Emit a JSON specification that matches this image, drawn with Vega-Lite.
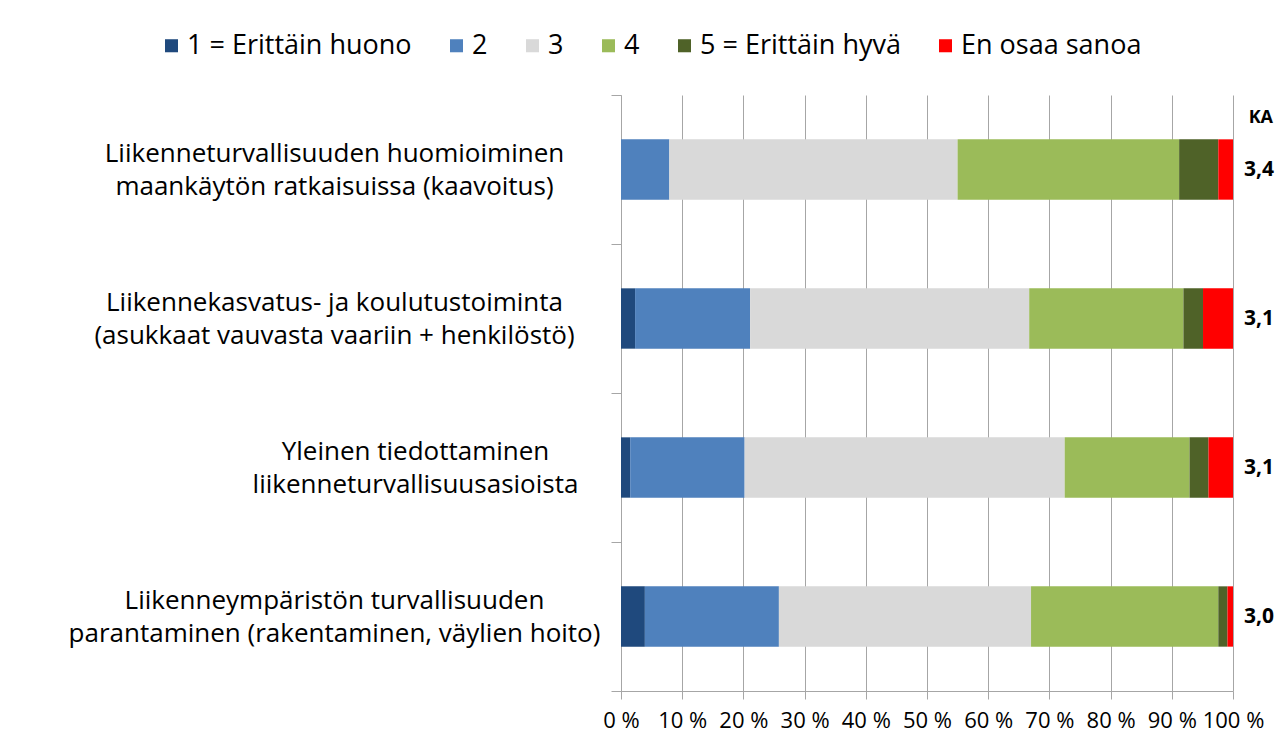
{
  "$schema": "https://vega.github.io/schema/vega-lite/v6.json",
  "autosize": {"type": "none"},
  "width": 612,
  "height": 596,
  "padding": {"left": 621, "top": 95, "right": 55, "bottom": 57},
  "background": "white",
  "config": {
    "view": {"stroke": null},
    "font": "Open Sans"
  },
  "title": {
    "text": "KA",
    "anchor": "end",
    "frame": "group",
    "orient": "top",
    "offset": 0,
    "dx": 40,
    "dy": 95,
    "fontSize": 18,
    "fontWeight": "bold",
    "font": "Open Sans",
    "color": "#000000"
  },
  "datasets": {
    "shares": [
      {"kohde": "Liikenneturvallisuuden huomioiminen|maankäytön ratkaisuissa (kaavoitus)", "vastaus": "1 = Erittäin huono", "osuus": 0},
      {"kohde": "Liikenneturvallisuuden huomioiminen|maankäytön ratkaisuissa (kaavoitus)", "vastaus": "2", "osuus": 7.9},
      {"kohde": "Liikenneturvallisuuden huomioiminen|maankäytön ratkaisuissa (kaavoitus)", "vastaus": "3", "osuus": 47.1},
      {"kohde": "Liikenneturvallisuuden huomioiminen|maankäytön ratkaisuissa (kaavoitus)", "vastaus": "4", "osuus": 36.2},
      {"kohde": "Liikenneturvallisuuden huomioiminen|maankäytön ratkaisuissa (kaavoitus)", "vastaus": "5 = Erittäin hyvä", "osuus": 6.4},
      {"kohde": "Liikenneturvallisuuden huomioiminen|maankäytön ratkaisuissa (kaavoitus)", "vastaus": "En osaa sanoa", "osuus": 2.4},
      {"kohde": "Liikennekasvatus- ja koulutustoiminta|(asukkaat vauvasta vaariin + henkilöstö)", "vastaus": "1 = Erittäin huono", "osuus": 2.3},
      {"kohde": "Liikennekasvatus- ja koulutustoiminta|(asukkaat vauvasta vaariin + henkilöstö)", "vastaus": "2", "osuus": 18.8},
      {"kohde": "Liikennekasvatus- ja koulutustoiminta|(asukkaat vauvasta vaariin + henkilöstö)", "vastaus": "3", "osuus": 45.6},
      {"kohde": "Liikennekasvatus- ja koulutustoiminta|(asukkaat vauvasta vaariin + henkilöstö)", "vastaus": "4", "osuus": 25.2},
      {"kohde": "Liikennekasvatus- ja koulutustoiminta|(asukkaat vauvasta vaariin + henkilöstö)", "vastaus": "5 = Erittäin hyvä", "osuus": 3.2},
      {"kohde": "Liikennekasvatus- ja koulutustoiminta|(asukkaat vauvasta vaariin + henkilöstö)", "vastaus": "En osaa sanoa", "osuus": 4.9},
      {"kohde": "Yleinen tiedottaminen|liikenneturvallisuusasioista", "vastaus": "1 = Erittäin huono", "osuus": 1.5},
      {"kohde": "Yleinen tiedottaminen|liikenneturvallisuusasioista", "vastaus": "2", "osuus": 18.7},
      {"kohde": "Yleinen tiedottaminen|liikenneturvallisuusasioista", "vastaus": "3", "osuus": 52.3},
      {"kohde": "Yleinen tiedottaminen|liikenneturvallisuusasioista", "vastaus": "4", "osuus": 20.4},
      {"kohde": "Yleinen tiedottaminen|liikenneturvallisuusasioista", "vastaus": "5 = Erittäin hyvä", "osuus": 3.1},
      {"kohde": "Yleinen tiedottaminen|liikenneturvallisuusasioista", "vastaus": "En osaa sanoa", "osuus": 4.0},
      {"kohde": "Liikenneympäristön turvallisuuden|parantaminen (rakentaminen, väylien hoito)", "vastaus": "1 = Erittäin huono", "osuus": 3.9},
      {"kohde": "Liikenneympäristön turvallisuuden|parantaminen (rakentaminen, väylien hoito)", "vastaus": "2", "osuus": 21.9},
      {"kohde": "Liikenneympäristön turvallisuuden|parantaminen (rakentaminen, väylien hoito)", "vastaus": "3", "osuus": 41.2},
      {"kohde": "Liikenneympäristön turvallisuuden|parantaminen (rakentaminen, väylien hoito)", "vastaus": "4", "osuus": 30.6},
      {"kohde": "Liikenneympäristön turvallisuuden|parantaminen (rakentaminen, väylien hoito)", "vastaus": "5 = Erittäin hyvä", "osuus": 1.5},
      {"kohde": "Liikenneympäristön turvallisuuden|parantaminen (rakentaminen, väylien hoito)", "vastaus": "En osaa sanoa", "osuus": 0.9}
    ],
    "ka": [
      {"kohde": "Liikenneturvallisuuden huomioiminen|maankäytön ratkaisuissa (kaavoitus)", "ka": "3,4"},
      {"kohde": "Liikennekasvatus- ja koulutustoiminta|(asukkaat vauvasta vaariin + henkilöstö)", "ka": "3,1"},
      {"kohde": "Yleinen tiedottaminen|liikenneturvallisuusasioista", "ka": "3,1"},
      {"kohde": "Liikenneympäristön turvallisuuden|parantaminen (rakentaminen, väylien hoito)", "ka": "3,0"}
    ]
  },
  "resolve": {"axis": {"y": "independent"}},
  "layer": [
    {
      "data": {"name": "shares"},
      "mark": {"type": "bar", "height": {"band": 0.405}},
      "encoding": {
        "y": {
          "field": "kohde",
          "type": "nominal",
          "sort": null,
          "scale": {"paddingInner": 0, "paddingOuter": 0},
          "axis": {
            "title": null,
            "orient": "left",
            "labelExpr": "indexof(datum.label, 'Yleinen') == 0 ? '' : split(datum.label, '|')",
            "labelFont": "Open Sans",
            "labelFontSize": 26,
            "labelColor": "#000000",
            "labelLineHeight": 33,
            "labelAlign": "center",
            "labelBaseline": "middle",
            "labelOffset": -16,
            "labelLimit": 0,
            "labelPadding": 277,
            "tickBand": "extent",
            "tickSize": 10,
            "tickColor": "#a6a6a6",
            "domainColor": "#a6a6a6",
            "grid": false
          }
        },
        "x": {
          "field": "osuus",
          "type": "quantitative",
          "stack": "zero",
          "scale": {"domain": [0, 100], "nice": false},
          "axis": {
            "title": null,
            "values": [0, 10, 20, 30, 40, 50, 60, 70, 80, 90, 100],
            "labelExpr": "datum.value + ' %'",
            "labelFont": "Open Sans",
            "labelFontSize": 22,
            "labelColor": "#000000",
            "labelPadding": 11,
            "labelFlush": false,
            "tickSize": 8,
            "tickColor": "#a6a6a6",
            "domainColor": "#a6a6a6",
            "grid": true,
            "gridColor": "#a6a6a6",
            "gridWidth": 1
          }
        },
        "color": {
          "field": "vastaus",
          "type": "nominal",
          "scale": {
            "domain": ["1 = Erittäin huono", "2", "3", "4", "5 = Erittäin hyvä", "En osaa sanoa"],
            "range": ["#1f497d", "#4f81bd", "#d9d9d9", "#9bbb59", "#4f6228", "#ff0000"]
          },
          "legend": {
            "title": null,
            "orient": "none",
            "direction": "horizontal",
            "legendX": -463,
            "legendY": -63,
            "padding": 0,
            "symbolType": "square",
            "symbolSize": 170,
            "symbolStrokeWidth": 0,
            "symbolOpacity": 1,
            "labelFont": "Open Sans",
            "labelFontSize": 27,
            "labelColor": "#000000",
            "labelOffset": 2,
            "labelLimit": 0,
            "columnPadding": 31
          }
        },
        "order": {"field": "vastaus", "sort": "ascending"}
      }
    },
    {
      "data": {"name": "ka"},
      "mark": {"type": "text", "align": "left", "baseline": "middle", "dx": 11, "fontSize": 21, "fontWeight": "bold", "font": "Open Sans", "color": "#000000"},
      "encoding": {
        "y": {
          "field": "kohde",
          "type": "nominal",
          "sort": null,
          "axis": {
            "title": null,
            "orient": "left",
            "domain": false,
            "ticks": false,
            "labelExpr": "indexof(datum.label, 'Yleinen') == 0 ? split(datum.label, '|') : ''",
            "labelFont": "Open Sans",
            "labelFontSize": 26,
            "labelColor": "#000000",
            "labelLineHeight": 33,
            "labelAlign": "center",
            "labelBaseline": "middle",
            "labelOffset": -16,
            "labelLimit": 0,
            "labelPadding": 206,
            "grid": false
          }
        },
        "x": {"datum": 100},
        "text": {"field": "ka"}
      }
    }
  ]
}
